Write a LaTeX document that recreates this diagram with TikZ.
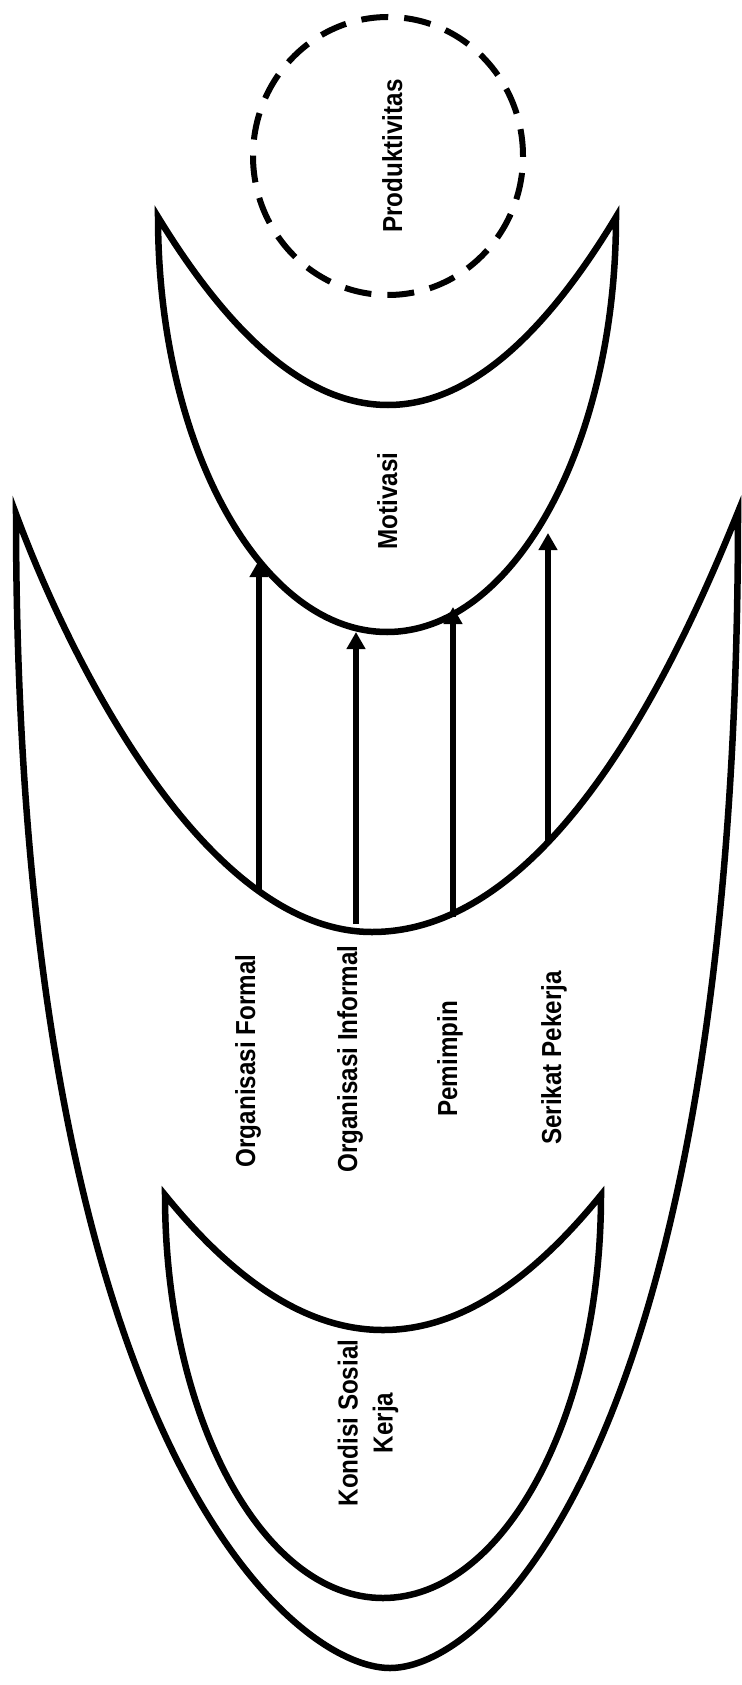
\documentclass[tikz,border=0pt]{standalone}
\usepackage{fontspec}
\newfontfamily\lblfont[FakeStretch=0.88]{Liberation Sans Bold}
\usetikzlibrary{arrows.meta}
\begin{document}
\begin{tikzpicture}[x=1pt, y=-1pt,
  crescent/.style={draw=black, line width=6.5pt, line join=miter},
  lbl/.style={font=\lblfont\fontsize{27.5}{35}\selectfont, rotate=90, inner sep=0pt},
  flow/.style={line width=5.5pt, -{Triangle[width=18pt,length=17pt]}},
  ring/.style={line width=6pt, dash pattern=on 27pt off 16pt}
]
\fill[white] (0,0) rectangle (741,1685);
\useasboundingbox (0,0) rectangle (741,1685);

% Produktivitas (dashed circle)
\draw[ring] (388,156) ellipse [x radius=135pt, y radius=139pt];
\node[lbl, anchor=base] (prod) at (402,156) {Produktivitas};

% crescent 1 : Motivasi
\draw[crescent] (158,217) .. controls (158,446) and (261,632) .. (387,632)
  .. controls (513,632) and (616,446) .. (616,217)
  .. controls (540,343) and (464,405) .. (388,405)
  .. controls (311,405) and (235,343) .. cycle;
\node[lbl, anchor=base] (motiv) at (397,501) {Motivasi};

% crescent 2 : big middle one
\draw[crescent] (16,514) .. controls (16,1435) and (290,1668) .. (390,1668)
  .. controls (490,1668) and (738,1438) .. (738,512)
  .. controls (686,640) and (560,932) .. (372,932)
  .. controls (205,932) and (70,660) .. cycle;

% crescent 3 : Kondisi Sosial Kerja
\draw[crescent] (165,1195) .. controls (165,1418) and (263,1598) .. (383,1598)
  .. controls (503,1598) and (601,1418) .. (601,1195)
  .. controls (528,1285) and (456,1330) .. (383,1330)
  .. controls (310,1330) and (238,1285) .. cycle;
\node[lbl, align=center, anchor=center] (kond) at (368,1423) {Kondisi Sosial\\Kerja};

% factor labels
\node[lbl, anchor=base] (formal) at (255,1061) {Organisasi Formal};
\node[lbl, anchor=base] (informal) at (357,1059) {Organisasi Informal};
\node[lbl, anchor=base] (pemimpin) at (457,1059) {Pemimpin};
\node[lbl, anchor=base] (serikat) at (561,1058) {Serikat Pekerja};

% arrow end points
\coordinate (fa) at (259,893);  \coordinate (fb) at (259,560);
\coordinate (ia) at (356,924);  \coordinate (ib) at (356,632);
\coordinate (pa) at (453,917);  \coordinate (pb) at (453,607);
\coordinate (sa) at (548,842);  \coordinate (sb) at (548,533);

\draw[flow] (fa) -- (fb);
\draw[flow] (ia) -- (ib);
\draw[flow] (pa) -- (pb);
\draw[flow] (sa) -- (sb);
\end{tikzpicture}
\end{document}
